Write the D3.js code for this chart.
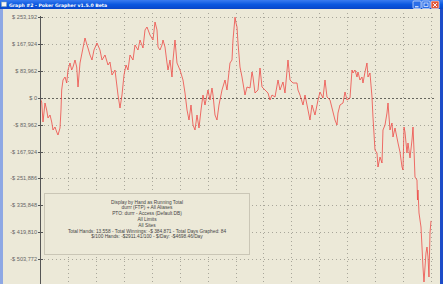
<!DOCTYPE html>
<html>
<head>
<meta charset="utf-8">
<script src="https://cdn.jsdelivr.net/npm/d3@7"></script>
<style>
  body { margin: 0; background: #ece9d8; overflow: hidden; }
</style>
</head>
<body>
<div id="my_dataviz"></div>
<script>
// running total, hand number vs winnings ($)
const hands = [0, 59, 104, 173, 232, 277, 347, 406, 451, 520, 579, 624, 694, 728, 752, 798, 867, 926, 971, 1040,
  1099, 1144, 1214, 1273, 1318, 1387, 1456, 1560, 1630, 1664, 1734, 1803, 1872, 1976, 2080, 2150, 2254, 2358, 2427, 2497,
  2601, 2705, 2774, 2843, 2913, 2982, 3051, 3121, 3225, 3294, 3398, 3468, 3572, 3641, 3710, 3814, 3918, 3988, 4057, 4092,
  4161, 4230, 4265, 4334, 4404, 4438, 4508, 4577, 4612, 4681, 4750, 4855, 4959, 5028, 5098, 5167, 5236, 5306, 5375, 5444,
  5513, 5583, 5652, 5721, 5825, 5895, 5964, 5999, 6068, 6137, 6206, 6276, 6311, 6415, 6484, 6588, 6658, 6692, 6762, 6796,
  6831, 6866, 6935, 7004, 7039, 7108, 7177, 7282, 7351, 7386, 7455, 7559, 7629, 7698, 7802, 7906, 7975, 8045, 8149, 8253,
  8322, 8426, 8495, 8599, 8669, 8773, 8911, 8946, 9016, 9120, 9189, 9293, 9362, 9432, 9536, 9640, 9709, 9813, 9882, 9952,
  10056, 10160, 10229, 10298, 10333, 10402, 10507, 10576, 10645, 10749, 10819, 10853, 10922, 10992, 11026, 11096, 11165, 11200, 11269, 11338,
  11373, 11442, 11512, 11546, 11616, 11685, 11720, 11790, 11859, 11893, 11963, 12032, 12067, 12136, 12205, 12240, 12310, 12414, 12483, 12553,
  12587, 12622, 12656, 12725, 12760, 12830, 12899, 12934, 12968, 13003, 13072, 13090, 13107, 13142, 13211, 13246, 13280, 13315, 13384, 13419,
  13454, 13488, 13523, 13558];
const winnings = [0, -12532, -75192, -15665, -37596, -62660, -53261, -75192, -100256, -90857, -106522, -115921, -93990, -37596, 25064, 56394, 65793, 46995, 87724, 109655,
  87724, 97123, 119054, 97123, 34463, 109655, 140985, 187980, 166049, 156650, 134719, 119054, 150384, 172315, 150384, 119054, 134719, 103389, 112788, 72059,
  87724, 9399, -31330, 9399, 72059, 103389, 87724, 134719, 119054, 166049, 150384, 181714, 156650, 213044, 222443, 197379, 181714, 238108, 213044, 159783,
  150384, 166049, 181714, 159783, 109655, 87724, 119054, 65793, 119054, 181714, 109655, 87724, 56394, 15665, -37596, -68926, -21931, -84591, -100256, -53261,
  -93990, -37596, 9399, -21931, 25064, -6266, 31330, 9399, -53261, -68926, -21931, 9399, 25064, 56394, 25064, 109655, 119054, 181714, 253192, 234975,
  222443, 172315, 97123, 65793, 46995, 9399, 34463, 31330, 81458, 65793, 15665, 25064, 93990, 34463, 25064, 15665, -6266, 9399, 3133, 56394,
  25064, 50128, 15665, 119054, 56394, 46995, 46995, 25064, 9399, -21931, 9399, -37596, -68926, -21931, -53261, -6266, 18798, 0, 56394, 3133,
  -6266, -43862, -68926, -84591, -46995, -21931, -15665, 18798, -6266, 0, 87724, 78325, 87724, 65793, 81458, 56394, 65793, 46995, 81458, 109655,
  65793, 78325, 3133, -59527, -162916, -172315, -216177, -184847, -203645, -100256, -84591, -46995, -15665, -100256, -78325, -122187, -93990, -140985, -169182, -216177,
  -225576, -90857, -106522, -172315, -140985, -187980, -131586, -90857, -162916, -247507, -256906, -319566, -288236, -360295, -404157, -466817, -529477, -576472, -485615, -466817,
  -498147, -560807, -422955, -384871];

// y tick values (top one is the peak)
const yTicks = [253192, 167924, 83962, 0, -83962, -167924, -251886, -335848, -419810, -503772, -587734];

const infoLines = [
  "Display by Hand as Running Total",
  "durrr (FTP) + All Aliases",
  "PTO: durrr - Access (Default DB)",
  "All Limits",
  "All Sites",
  "Total Hands: 13,558 - Total Winnings: -$ 384,871 - Total Days Graphed: 84",
  "$/100 Hands: -$2911.41/100 - $/Day: -$4698.46/Day"
];

const W = 443, H = 284;
const plot = { left: 40, right: 431, top: 17.2, bottom: 285.6 };

const svg = d3
  .select("#my_dataviz")
  .append("svg")
  .attr("width", W)
  .attr("height", H)
  .style("display", "block");

// window background
svg.append("rect").attr("width", W).attr("height", H).attr("fill", "#ece9d8");

const x = d3.scaleLinear().domain([0, 13558]).range([plot.left, plot.right]);
const y = d3.scaleLinear().domain([-587734, 253192]).range([plot.bottom, plot.top]);

// vertical grid (14 equal divisions)
const xGrid = d3.range(1, 15).map(function (i) { return (i * 13558) / 14; });
svg
  .selectAll(".vgrid")
  .data(xGrid)
  .join("line")
  .attr("x1", function (d) { return Math.round(x(d)) + 0.5; })
  .attr("x2", function (d) { return Math.round(x(d)) + 0.5; })
  .attr("y1", 13)
  .attr("y2", H)
  .attr("stroke", "#a8a69a")
  .attr("stroke-dasharray", "1,3");

// horizontal grid
svg
  .selectAll(".hgrid")
  .data(yTicks)
  .join("line")
  .attr("x1", plot.left)
  .attr("x2", 436)
  .attr("y1", function (d) { return Math.round(y(d)) + 0.5; })
  .attr("y2", function (d) { return Math.round(y(d)) + 0.5; })
  .attr("stroke", function (d) { return d === 0 ? "#66665e" : "#a8a69a"; })
  .attr("stroke-dasharray", function (d) { return d === 0 ? "2,2" : "1,3"; });

// info box
svg
  .append("rect")
  .attr("x", 44.5)
  .attr("y", 193.5)
  .attr("width", 205)
  .attr("height", 61)
  .attr("fill", "#ece9d8")
  .attr("stroke", "#cac6b6");

svg
  .selectAll(".info")
  .data(infoLines)
  .join("text")
  .attr("x", 147)
  .attr("y", function (d, i) { return 203.5 + i * 5.8; })
  .attr("text-anchor", "middle")
  .attr("font-family", "Liberation Sans, Arial, sans-serif")
  .attr("font-size", "4.8px")
  .attr("fill", "#444")
  .text(function (d) { return d; });

// the running total line
const line = d3
  .line()
  .x(function (d) { return x(d[0]); })
  .y(function (d) { return y(d[1]); });

svg
  .append("path")
  .datum(d3.zip(hands, winnings))
  .attr("d", line)
  .attr("fill", "none")
  .attr("stroke", "#ee4a46")
  .attr("stroke-width", 0.8)
  .attr("stroke-linejoin", "round");

// y axis
svg
  .append("line")
  .attr("x1", plot.left + 0.5)
  .attr("x2", plot.left + 0.5)
  .attr("y1", 16)
  .attr("y2", H)
  .attr("stroke", "#555");

svg
  .selectAll(".tick")
  .data(yTicks)
  .join("line")
  .attr("x1", plot.left - 2)
  .attr("x2", plot.left + 3)
  .attr("y1", function (d) { return Math.round(y(d)) + 0.5; })
  .attr("y2", function (d) { return Math.round(y(d)) + 0.5; })
  .attr("stroke", "#555");

const fmt = d3.format(",");
svg
  .selectAll(".ylabel")
  .data(yTicks)
  .join("text")
  .attr("x", 37)
  .attr("y", function (d) { return y(d) + 2; })
  .attr("text-anchor", "end")
  .attr("font-family", "Liberation Sans, Arial, sans-serif")
  .attr("font-size", "5.6px")
  .attr("fill", "#666")
  .text(function (d) { return (d < 0 ? "-$ " : "$ ") + fmt(Math.abs(d)); });

// window frame: title bar and borders
const grad = svg.append("defs").append("linearGradient")
  .attr("id", "tb").attr("x1", 0).attr("x2", 0).attr("y1", 0).attr("y2", 1);
grad.append("stop").attr("offset", "0%").attr("stop-color", "#3a7cf0");
grad.append("stop").attr("offset", "50%").attr("stop-color", "#0a58e0");
grad.append("stop").attr("offset", "100%").attr("stop-color", "#0846c8");

svg.append("rect").attr("x", 0).attr("y", 0).attr("width", W).attr("height", 9).attr("fill", "url(#tb)");
svg.append("rect").attr("x", 0).attr("y", 9).attr("width", 3).attr("height", H - 9).attr("fill", "#8ea8e4");
svg.append("rect").attr("x", 440).attr("y", 9).attr("width", 3).attr("height", H - 9).attr("fill", "#1c4cc8");

// small app icon
svg.append("rect").attr("x", 1.5).attr("y", 2).attr("width", 5).attr("height", 4.5)
  .attr("fill", "#f4f4f4").attr("stroke", "#8aa").attr("stroke-width", 0.5);

svg
  .append("text")
  .attr("x", 9)
  .attr("y", 6.5)
  .attr("font-family", "DejaVu Sans, sans-serif")
  .attr("font-weight", "bold")
  .attr("font-size", "4.6px")
  .attr("fill", "#fff")
  .text("Graph #2 - Poker Grapher v1.5.0 Beta");

// caption buttons
const buttons = [
  { x: 413, fill: "#2a6ee8" },
  { x: 422, fill: "#2a6ee8" },
  { x: 431, fill: "#e0583a" }
];
svg
  .selectAll(".btn")
  .data(buttons)
  .join("rect")
  .attr("x", function (d) { return d.x; })
  .attr("y", 1)
  .attr("width", 8)
  .attr("height", 7.5)
  .attr("rx", 1)
  .attr("fill", function (d) { return d.fill; })
  .attr("stroke", "#fff")
  .attr("stroke-width", 0.6);
svg.append("line").attr("x1", 415).attr("x2", 418.5).attr("y1", 6.8).attr("y2", 6.8).attr("stroke", "#fff").attr("stroke-width", 1);
svg.append("rect").attr("x", 424).attr("y", 3).attr("width", 4).attr("height", 3.5).attr("fill", "none").attr("stroke", "#fff").attr("stroke-width", 0.7);
svg.append("path").attr("d", "M433,3 L437,7 M437,3 L433,7").attr("stroke", "#fff").attr("stroke-width", 0.9);
</script>
</body>
</html>
